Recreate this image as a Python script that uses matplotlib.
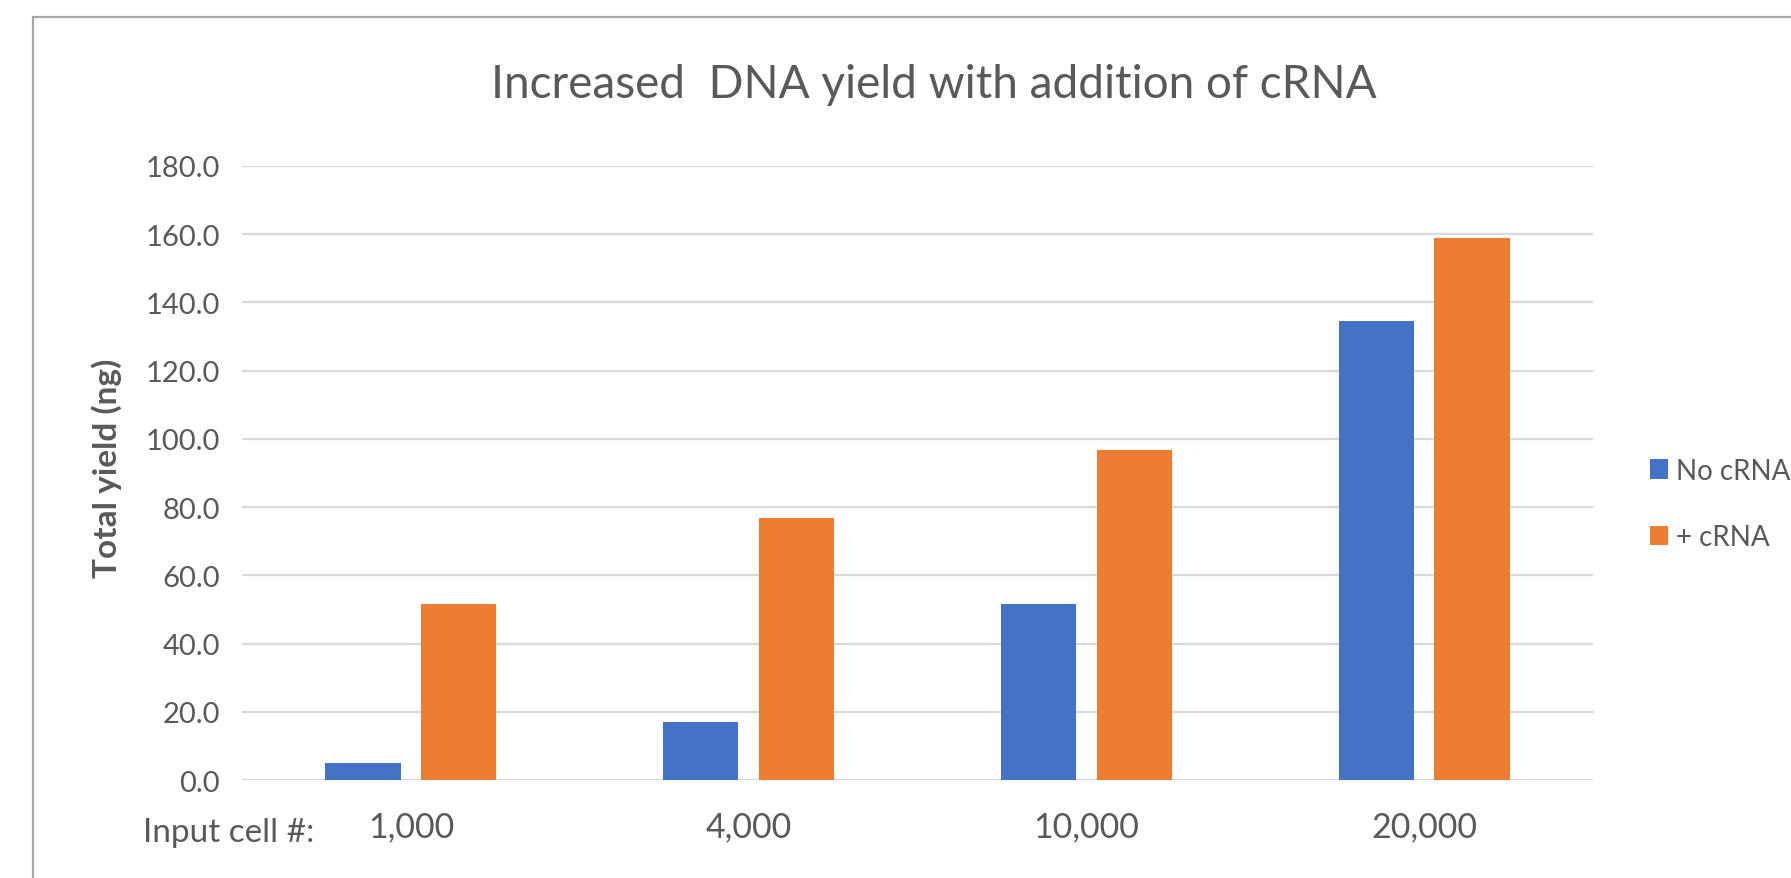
import matplotlib
matplotlib.use("Agg")
import matplotlib.pyplot as plt
from matplotlib.lines import Line2D
from matplotlib.patches import Patch
import numpy as np

categories = ["1,000", "4,000", "10,000", "20,000"]
no_crna = [5.0, 17.0, 51.5, 134.5]
plus_crna = [51.5, 76.7, 96.7, 158.8]
series_names = ["No cRNA", "+ cRNA"]
yticks = [0, 20, 40, 60, 80, 100, 120, 140, 160, 180]

BLUE = "#4472C4"
ORANGE = "#ED7D31"
TXT = "#595959"
GRID = "#D9D9D9"

plt.rcParams['font.family'] = ['Lato', 'DejaVu Sans']

W, H = 1791, 879
fig = plt.figure(figsize=(W / 100, H / 100), dpi=100)
fig.patch.set_facecolor("white")

x0, x1 = 242, 1593
y_top, y_bot = 167, 781
ax = fig.add_axes([x0 / W, 1 - y_bot / H, (x1 - x0) / W, (y_bot - y_top) / H])

x = np.arange(len(categories))
bw = 0.223
off = 0.142
ax.bar(x - off, no_crna, bw, color=BLUE, zorder=3, label=series_names[0])
ax.bar(x + off, plus_crna, bw, color=ORANGE, zorder=3, label=series_names[1])

ax.set_xlim(-0.5, len(categories) - 0.5)
ax.set_ylim(0, 180)
ax.set_yticks(yticks)
ax.set_yticklabels([f"{v:.1f}" for v in yticks])
ax.set_xticks(x)
ax.set_xticklabels(categories)
ax.grid(axis='y', color=GRID, linewidth=1.6, zorder=0)
ax.set_axisbelow(True)
for s in ax.spines.values():
    s.set_visible(False)
ax.tick_params(axis='both', length=0, colors=TXT)
ax.tick_params(axis='y', pad=16, labelsize=21)
ax.tick_params(axis='x', pad=22, labelsize=24.5)

fig.text(107 / W, 1 - 468 / H, "Total yield (ng)", rotation=90, ha='center',
         va='center', fontsize=24, fontweight='bold', color=TXT)

fig.text(934 / W, 1 - 85 / H, "Increased  DNA yield with addition of cRNA",
         ha='center', va='center', fontsize=33, color=TXT)
fig.text(143 / W, 1 - 833 / H, "Input cell #:", ha='left', va='center',
         fontsize=24, color=TXT)

handles = [Patch(facecolor=BLUE), Patch(facecolor=ORANGE)]
leg = fig.legend(handles, series_names, loc='upper left',
                 bbox_to_anchor=(1650 / W, 1 - 459 / H), frameon=False,
                 fontsize=20, handlelength=0.64, handleheight=0.72,
                 handletextpad=0.3, labelspacing=1.45, labelcolor=TXT,
                 borderpad=0, borderaxespad=0)

# outer frame (screenshot border)
fig.add_artist(Line2D([33 / W, 33 / W], [0, 1 - 18 / H], color="#A6A6A6", lw=1.6,
                      transform=fig.transFigure))
fig.add_artist(Line2D([33 / W, 1], [1 - 18 / H, 1 - 18 / H], color="#A6A6A6", lw=1.6,
                      transform=fig.transFigure))

fig.savefig("out.png", dpi=100)
